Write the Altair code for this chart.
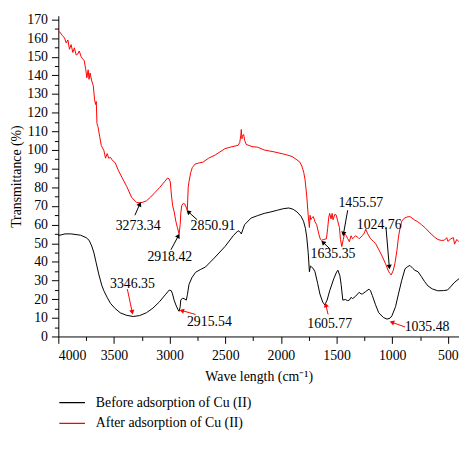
import math
import altair as alt
import pandas as pd

# ---------------- data ----------------
before_x = [4000, 3940, 3885, 3800, 3750, 3724, 3700, 3680, 3660, 3635, 3610, 3591, 3560, 3532, 3490,
            3444, 3390, 3327, 3270, 3209, 3150, 3091, 3040, 3003, 2985, 2974, 2960, 2944, 2925, 2915,
            2905, 2900, 2885, 2871, 2850, 2840, 2826, 2800, 2767, 2720, 2679, 2600, 2503, 2429, 2385,
            2370, 2356, 2341, 2326, 2268, 2210, 2150, 2090, 2032, 1980, 1929, 1890, 1856, 1820, 1797,
            1780, 1768, 1755, 1744, 1735, 1724, 1710, 1694, 1670, 1650, 1625, 1606, 1585, 1562, 1525,
            1500, 1488, 1470, 1459, 1444, 1420, 1400, 1385, 1370, 1356, 1330, 1297, 1280, 1268, 1240,
            1209, 1195, 1179, 1150, 1121, 1080, 1047, 1020, 1003, 970, 944, 915, 885, 860, 841, 815,
            797, 768, 738, 710, 679, 640, 591, 540, 503, 470, 444, 400]
before_y = [54.1, 55.0, 55.0, 54.3, 53.0, 51.6, 48.5, 44.8, 39.5, 33.0, 27.5, 24.5, 20.8, 17.8, 15.0,
            12.7, 11.4, 10.7, 11.2, 12.7, 15.2, 18.6, 22.3, 24.9, 24.5, 22.8, 19.5, 16.9, 14.4, 13.5,
            16.0, 19.5, 20.5, 20.3, 19.5, 22.5, 27.9, 31.5, 34.4, 36.0, 37.2, 42.0, 48.2, 54.0, 56.7,
            56.2, 55.0, 57.5, 60.0, 63.5, 64.8, 66.0, 66.8, 67.7, 68.5, 68.9, 68.2, 66.8, 64.5, 61.8,
            58.0, 53.3, 45.0, 34.7, 37.8, 37.2, 36.5, 34.7, 28.5, 22.8, 18.5, 16.9, 19.5, 24.5, 31.0,
            34.5, 35.5, 32.5, 27.9, 19.5, 19.8, 19.2, 19.5, 21.0, 20.3, 21.5, 23.7, 22.8, 22.8, 24.0,
            25.4, 24.5, 22.0, 17.0, 12.7, 10.2, 9.3, 9.8, 11.0, 16.0, 22.8, 30.0, 36.3, 37.5, 38.1, 36.5,
            35.5, 34.7, 32.1, 29.5, 27.1, 25.5, 24.5, 24.6, 24.9, 27.0, 28.8, 31.0]

after_x = [4000, 3988, 3965, 3944, 3929, 3914, 3900, 3885, 3870, 3856, 3840, 3826, 3812, 3795, 3782,
           3768, 3753, 3744, 3732, 3724, 3715, 3700, 3686, 3674, 3665, 3659, 3653, 3644, 3629, 3614,
           3591, 3576, 3561, 3547, 3530, 3518, 3488, 3459, 3429, 3385, 3341, 3297, 3268, 3240, 3209,
           3170, 3135, 3091, 3047, 3018, 3005, 2994, 2983, 2973, 2959, 2944, 2930, 2915, 2905, 2900,
           2891, 2877, 2865, 2856, 2841, 2833, 2826, 2810, 2797, 2770, 2738, 2700, 2650, 2591, 2503,
           2450, 2385, 2370, 2360, 2356, 2350, 2347, 2335, 2325, 2312, 2260, 2209, 2150, 2062, 1988,
           1944, 1900, 1856, 1830, 1812, 1795, 1783, 1768, 1753, 1744, 1738, 1732, 1724, 1709, 1694,
           1679, 1660, 1645, 1635, 1615, 1591, 1580, 1570, 1562, 1550, 1540, 1532, 1515, 1503, 1490,
           1474, 1465, 1453, 1440, 1428, 1415, 1400, 1385, 1370, 1356, 1330, 1310, 1297, 1270, 1250,
           1238, 1220, 1194, 1170, 1150, 1120, 1091, 1060, 1032, 1009, 990, 974, 958, 944, 930, 915,
           890, 870, 841, 800, 770, 738, 700, 660, 620, 590, 560, 532, 510, 500, 473, 450, 440, 420, 400]
after_y = [164.0, 163.3, 161.5, 160.0, 157.4, 159.0, 154.0, 156.5, 152.3, 154.8, 151.0, 151.4, 153.1, 150.0, 148.9,
           148.0, 143.0, 138.7, 143.0, 137.9, 141.3, 137.0, 134.5, 126.9, 124.4, 126.0, 114.2, 112.5, 107.4, 102.4,
           99.8, 95.6, 98.1, 95.6, 96.0, 94.8, 93.0, 88.8, 85.4, 80.4, 74.5, 71.9, 71.6, 72.0, 72.7,
           74.8, 77.0, 79.8, 82.9, 85.0, 84.5, 82.9, 75.3, 70.2, 66.8, 61.7, 58.4, 55.0, 60.0, 66.0,
           70.2, 71.4, 71.1, 70.0, 67.7, 80.0, 83.0, 88.0, 90.5, 92.5, 93.0, 93.5, 95.6, 97.3, 100.7,
           101.6, 102.5, 104.0, 108.0, 111.0, 106.0, 107.4, 108.3, 105.0, 103.0, 101.8, 101.5, 100.0, 99.0, 98.0,
           97.3, 96.5, 94.7, 93.5, 91.4, 88.0, 84.0, 75.3, 63.5, 58.4, 65.0, 62.6, 63.5, 64.3, 61.5,
           60.0, 55.0, 52.0, 51.6, 52.0, 52.4, 58.0, 64.0, 66.0, 63.0, 66.0, 62.6, 65.5, 65.1, 62.0,
           58.4, 52.0, 48.2, 52.0, 55.0, 54.2, 52.5, 50.8, 54.0, 52.4, 54.0, 53.2, 52.4, 54.0, 55.5,
           57.5, 55.0, 52.4, 51.0, 49.9, 46.5, 43.1, 39.0, 34.7, 33.0, 35.5, 39.7, 46.0, 53.3, 58.0, 61.8,
           63.5, 64.0, 64.3, 62.5, 61.5, 60.0, 58.0, 55.5, 53.3, 52.0, 51.5, 51.6, 53.0, 51.0, 52.4, 53.0, 49.5, 52.0, 50.8]

BEFORE = "Before adsorption of Cu (II)"
AFTER = "After adsorption of Cu (II)"

ann_text = ["3273.34", "2918.42", "2850.91", "3346.35", "2915.54",
            "1635.35", "1455.57", "1024.76", "1605.77", "1035.48"]
ann_x = [3283, 2998, 2610, 3334, 2643, 1532, 1282, 1117, 1562, 687]
ann_y = [59.2, 42.7, 59.2, 27.9, 7.6, 44.0, 71.6, 60.0, 6.8, 5.1]

arrow_x0 = [3312, 2988, 2753, 3380, 2767, 1560, 1400, 1056, 1576, 885]
arrow_y0 = [65.0, 46.5, 62.6, 25.4, 11.8, 47.0, 67.7, 58.4, 11.8, 5.1]
arrow_x1 = [3268, 2921, 2833, 3336, 2891, 1622, 1438, 1026, 1597, 1003]
arrow_y1 = [71.0, 54.0, 66.9, 13.0, 13.9, 50.5, 55.0, 37.2, 16.9, 7.6]
arrow_color = ["black", "black", "black", "red", "red",
               "black", "black", "black", "red", "red"]

# ---------------- layout ----------------
W, H = 406, 325
X_DOMAIN = [4000, 400]
Y_DOMAIN = [0, 172]
FONT = "Liberation Serif"

x_ticks = list(range(4000, 499, -250))
y_ticks = list(range(0, 171, 5))

curves = pd.concat([
    pd.DataFrame({"x": before_x, "y": before_y, "series": BEFORE}),
    pd.DataFrame({"x": after_x, "y": after_y, "series": AFTER}),
], ignore_index=True)

ann = pd.DataFrame({"x": ann_x, "y": ann_y, "label": ann_text})

sx = W / abs(X_DOMAIN[0] - X_DOMAIN[1])
sy = H / (Y_DOMAIN[1] - Y_DOMAIN[0])
angles = []
for a, b, c, d in zip(arrow_x0, arrow_y0, arrow_x1, arrow_y1):
    dx = -(c - a) * sx
    dy = -(d - b) * sy
    angles.append(math.degrees(math.atan2(dx, -dy)) % 360)
arrows = pd.DataFrame({"x": arrow_x0, "y": arrow_y0, "x2": arrow_x1, "y2": arrow_y1,
                       "color": arrow_color, "angle": angles})


def X(field="x"):
    return alt.X(f"{field}:Q",
                 scale=alt.Scale(domain=X_DOMAIN, nice=False, zero=False),
                 axis=alt.Axis(values=x_ticks, format="d", grid=False,
                               labelExpr="datum.value % 500 === 0 ? datum.label : ''",
                               tickSize={"condition": {"test": "datum.value % 500 !== 0", "value": 4}, "value": 7},
                               labelPadding=5, titlePadding=8),
                 title="Wave length (cm\u207b\u00b9)")


def Y(field="y"):
    return alt.Y(f"{field}:Q",
                 scale=alt.Scale(domain=Y_DOMAIN, nice=False, zero=False),
                 axis=alt.Axis(values=y_ticks, format="d", grid=False,
                               labelExpr="datum.value % 10 === 0 ? datum.label : ''",
                               tickSize={"condition": {"test": "datum.value % 10 !== 0", "value": 4}, "value": 7},
                               labelPadding=4, titlePadding=3),
                 title="Transmittance (%)")


lines = alt.Chart(curves).mark_line(strokeWidth=1).encode(
    x=X(), y=Y(),
    color=alt.Color("series:N",
                    scale=alt.Scale(domain=[BEFORE, AFTER], range=["black", "red"]),
                    legend=alt.Legend(title=None, orient="none", legendX=0, legendY=384,
                                      symbolType="stroke", symbolSize=676, symbolStrokeWidth=1.2,
                                      labelFont=FONT, labelFontSize=14, labelColor="black",
                                      labelOffset=10, clipHeight=16, rowPadding=5, padding=0)),
)

texts = alt.Chart(ann).mark_text(font=FONT, fontSize=14, color="black",
                                 align="center", baseline="middle").encode(
    x=X(), y=Y(), text="label:N")

layers = [lines, texts]
for col in ["black", "red"]:
    sub = arrows[arrows["color"] == col]
    layers.append(alt.Chart(sub).mark_rule(color=col, strokeWidth=1).encode(
        x=X(), y=Y(), x2="x2:Q", y2="y2:Q"))
    layers.append(alt.Chart(sub).mark_point(shape="triangle-up", filled=True, color=col,
                                            size=28, opacity=1).encode(
        x=X("x2"), y=Y("y2"), angle=alt.Angle("angle:Q", scale=None)))

chart = alt.layer(*layers).properties(
    width=W, height=H,
    autosize=alt.AutoSizeParams(type="none"),
    padding={"left": 51, "top": 5, "right": 0, "bottom": 96},
).configure_view(stroke=None).configure_axis(
    labelFont=FONT, titleFont=FONT, labelFontSize=14, titleFontSize=14,
    titleFontWeight="normal", labelColor="black", titleColor="black",
    domainColor="black", tickColor="black", domainWidth=1, tickWidth=1,
)

chart.save("out.html", embed_options={"renderer": "svg", "actions": False})
